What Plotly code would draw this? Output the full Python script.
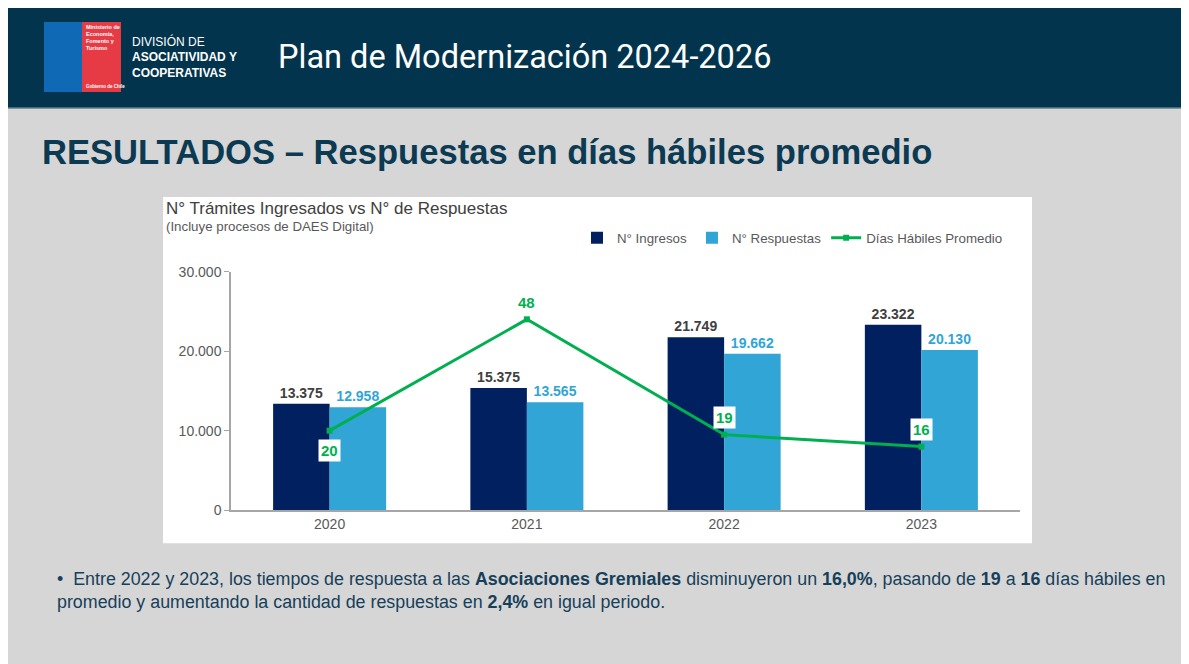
import plotly.graph_objects as go

# Empirical page mapping of the figure: page_x = 8 + fig_x, page_y = 16 + 0.9755 * fig_y
OFFX, OFFY, SY = 8, 16, 0.9755
W, H = 1181, 664

years = ["2020", "2021", "2022", "2023"]
ingresos = [13375, 15375, 21749, 23322]
respuestas = [12958, 13565, 19662, 20130]
dias = [20, 48, 19, 16]
dias_label_pos = ["below", "above", "above", "above"]

NAVY = "#002060"
LBLUE = "#31A5D6"
GREEN = "#00B050"
HEADER = "#02354D"
FONT = "Liberation Sans, Arial, sans-serif"

def px(x):
    return (x - OFFX) / W

def py(y):
    return 1 - ((y - OFFY) / SY) / H

fig = go.Figure()
fig.add_trace(go.Bar(
    x=years, y=ingresos, name="N° Ingresos", marker=dict(color=NAVY, line=dict(width=0)),
    texttemplate="<b>%{y:,}</b>", textposition="outside",
    outsidetextfont=dict(color="#404040", size=14, family=FONT), cliponaxis=False,
))
fig.add_trace(go.Bar(
    x=years, y=respuestas, name="N° Respuestas", marker=dict(color=LBLUE, line=dict(width=0)),
    texttemplate="<b>%{y:,}</b>", textposition="outside",
    outsidetextfont=dict(color=LBLUE, size=14, family=FONT), cliponaxis=False,
))
fig.add_trace(go.Scatter(
    x=years, y=dias, name="Días Hábiles Promedio", yaxis="y2", mode="lines+markers",
    line=dict(color=GREEN, width=3), marker=dict(symbol="square", size=6, color=GREEN),
    cliponaxis=False,
))

annotations = []
for i, (d, pos) in enumerate(zip(dias, dias_label_pos)):
    annotations.append(dict(
        x=i, y=d, xref="x", yref="y2", text=f"<b>{d}</b>", showarrow=False,
        font=dict(color=GREEN, size=15, family=FONT), bgcolor="white", borderpad=2,
        yshift=-20 if pos == "below" else 17,
    ))

# header texts
annotations += [
    dict(x=px(130), y=py(41), xref="paper", yref="paper", xanchor="left", yanchor="middle",
         text="DIVISIÓN DE", showarrow=False, font=dict(color="white", size=12, family=FONT)),
    dict(x=px(130), y=py(57), xref="paper", yref="paper", xanchor="left", yanchor="middle",
         text="<b>ASOCIATIVIDAD Y</b>", showarrow=False, font=dict(color="white", size=12, family=FONT)),
    dict(x=px(130), y=py(73), xref="paper", yref="paper", xanchor="left", yanchor="middle",
         text="<b>COOPERATIVAS</b>", showarrow=False, font=dict(color="white", size=12, family=FONT)),
    dict(x=px(276), y=py(57), xref="paper", yref="paper", xanchor="left", yanchor="middle",
         text="Plan de Modernización 2024-2026", showarrow=False,
         font=dict(color="white", size=32.5, family="Roboto, sans-serif")),
    dict(x=px(84), y=py(37), xref="paper", yref="paper", xanchor="left", yanchor="middle",
         text="<b>Ministerio de<br>Economía,<br>Fomento y<br>Turismo</b>", showarrow=False, align="left",
         font=dict(color="white", size=5.5, family=FONT)),
    dict(x=px(84), y=py(86), xref="paper", yref="paper", xanchor="left", yanchor="middle",
         text="<b>Gobierno de Chile</b>", showarrow=False,
         font=dict(color="white", size=4.5, family=FONT)),
    # heading
    dict(x=px(40), y=py(152), xref="paper", yref="paper", xanchor="left", yanchor="middle",
         text="<b>RESULTADOS – Respuestas en días hábiles promedio</b>", showarrow=False,
         font=dict(color="#0C3A52", size=34.6, family=FONT)),
    # chart title
    dict(x=px(164), y=py(208), xref="paper", yref="paper", xanchor="left", yanchor="middle",
         text="N° Trámites Ingresados vs N° de Respuestas", showarrow=False,
         font=dict(color="#404040", size=17, family=FONT)),
    dict(x=px(164), y=py(226), xref="paper", yref="paper", xanchor="left", yanchor="middle",
         text="(Incluye procesos de DAES Digital)", showarrow=False,
         font=dict(color="#595959", size=13.3, family=FONT)),
    # bottom text
    dict(x=px(55), y=py(590), xref="paper", yref="paper", xanchor="left", yanchor="middle",
         align="left", showarrow=False,
         text=("•  Entre 2022 y 2023, los tiempos de respuesta a las <b>Asociaciones Gremiales</b> "
               "disminuyeron un <b>16,0%</b>, pasando de <b>19</b> a <b>16</b> días hábiles en<br>"
               "promedio y aumentando la cantidad de respuestas en <b>2,4%</b> en igual periodo."),
         font=dict(color="#16405A", size=17.85, family=FONT)),
]

shapes = [
    dict(type="rect", xref="paper", yref="paper", x0=0, x1=1, y0=py(108), y1=0,
         fillcolor="#D6D6D6", line=dict(width=0), layer="below"),
    dict(type="line", xref="paper", yref="paper", x0=0, x1=1, y0=py(108), y1=py(108),
         line=dict(color="#5E7C8C", width=1.5), layer="below"),
    dict(type="rect", xref="paper", yref="paper", x0=px(44), x1=px(82), y0=py(22), y1=py(92),
         fillcolor="#0F69B4", line=dict(width=0), layer="below"),
    dict(type="rect", xref="paper", yref="paper", x0=px(82), x1=px(121), y0=py(22), y1=py(92),
         fillcolor="#E63B45", line=dict(width=0), layer="below"),
    dict(type="rect", xref="paper", yref="paper", x0=px(163), x1=px(1032), y0=py(197), y1=py(543),
         fillcolor="white", line=dict(width=0), layer="below"),
]

fig.update_layout(
    width=W, height=H, margin=dict(l=0, r=0, t=0, b=0),
    paper_bgcolor=HEADER, plot_bgcolor="rgba(0,0,0,0)",
    separators=",.",
    font=dict(family=FONT, color="#595959", size=14),
    barmode="group", bargap=0.427, bargroupgap=0,
    xaxis=dict(type="category", domain=[px(231), px(1020)], range=[-0.5, len(years) - 0.5],
               showline=True, linecolor="#A6A6A6",
               linewidth=1.5, showgrid=False, zeroline=False, ticks="",
               tickfont=dict(size=14, color="#595959", family=FONT)),
    yaxis=dict(domain=[py(510), py(271.5)], range=[0, 30000], tickvals=[0, 10000, 20000, 30000],
               tickformat=",d", showgrid=False, zeroline=False, showline=True,
               linecolor="#A6A6A6", linewidth=1.5, ticks="outside", ticklen=5,
               tickcolor="#A6A6A6", tickfont=dict(size=14, color="#595959", family=FONT)),
    yaxis2=dict(overlaying="y", range=[0, 60], visible=False, side="right"),
    showlegend=True,
    legend=dict(orientation="h", x=px(577), y=py(238), xanchor="left", yanchor="middle",
                font=dict(size=13.3, color="#595959", family=FONT), bgcolor="rgba(0,0,0,0)",
                traceorder="normal"),
    annotations=annotations, shapes=shapes,
)

fig.write_html("out.html")
